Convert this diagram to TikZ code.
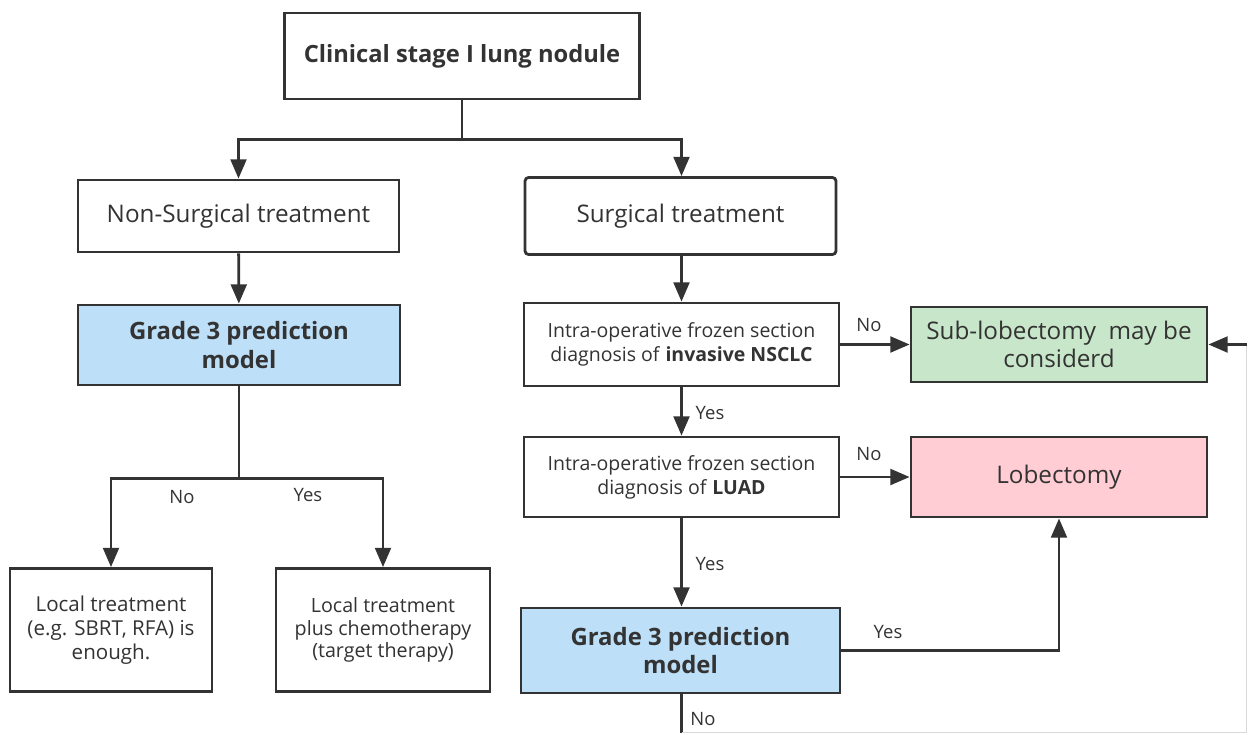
\documentclass[tikz,border=0pt]{standalone}
\usepackage{fontspec}
\setmainfont{Open Sans}
\usetikzlibrary{arrows.meta}
\definecolor{ink}{HTML}{333333}
\definecolor{modelblue}{HTML}{BDDFF8}
\definecolor{subgreen}{HTML}{C8E6C9}
\definecolor{lobpink}{HTML}{FFCDD3}
\begin{document}
\begin{tikzpicture}[x=0.02cm, y=-0.02cm,
    box/.style={draw=ink, line width=1.6pt, fill=white, inner sep=0pt, align=center, text=ink},
    link/.style={draw=ink, line width=1.6pt},
    arr/.style={link, -{Triangle[length=11pt, width=9pt]}},
    lbl/.style={text=ink, inner sep=0pt, font=\fontsize{10.5}{12}\selectfont}]
    \useasboundingbox (0,0) rectangle (1248,734);

    % top of the tree
    \node[box, minimum width=7.1cm, minimum height=1.72cm, font=\bfseries\fontsize{13.5}{16}\selectfont] (root) at (462,56) {Clinical stage I lung nodule};
    \node[box, minimum width=6.42cm, minimum height=1.44cm, font=\fontsize{13.8}{16}\selectfont] (nonsurg) at (238.5,216) {Non-Surgical treatment};
    \node[box, rounded corners=2pt, minimum width=6.22cm, minimum height=1.54cm, font=\fontsize{13.8}{16}\selectfont] (surg) at (680.5,216) {Surgical treatment};

    % non-surgical branch
    \node[box, fill=modelblue, minimum width=6.44cm, minimum height=1.6cm, font=\bfseries\fontsize{13.6}{16}\selectfont] (gradeL) at (239,345) {Grade 3 prediction\\model};
    \node[box, minimum width=4.04cm, minimum height=2.46cm, font=\fontsize{11.7}{13.6}\selectfont] (localL) at (111,630) {Local treatment\\(e.g. SBRT, RFA) is\\enough.};
    \node[box, minimum width=4.28cm, minimum height=2.46cm, font=\fontsize{11.2}{13}\selectfont] (localR) at (383,630) {Local treatment\\plus chemotherapy\\(target therapy)};

    % surgical branch
    \node[box, minimum width=6.3cm, minimum height=1.66cm, font=\fontsize{11.1}{13.6}\selectfont] (intraA) at (681.5,344.5) {Intra-operative frozen section\\diagnosis of \textbf{invasive NSCLC}};
    \node[box, minimum width=6.3cm, minimum height=1.6cm, font=\fontsize{11.1}{13.6}\selectfont] (intraB) at (681.5,477) {Intra-operative frozen section\\diagnosis of \textbf{LUAD}};
    \node[box, fill=modelblue, minimum width=6.38cm, minimum height=1.7cm, font=\bfseries\fontsize{13.6}{16}\selectfont] (gradeR) at (680.5,650.5) {Grade 3 prediction\\model};

    % outcomes
    \node[box, fill=subgreen, minimum width=5.92cm, minimum height=1.5cm, font=\fontsize{13.8}{16}\selectfont] (sub) at (1059,344.5) {Sub-lobectomy\ \ may be\\considerd};
    \node[box, fill=lobpink, minimum width=5.92cm, minimum height=1.6cm, font=\fontsize{13.8}{16}\selectfont] (lob) at (1059,477) {Lobectomy};
    \coordinate (bend) at (1246.5,732.5);

    % connectors from the root
    \draw[arr] (root.south) -- ++(0,39) -| (nonsurg.north);
    \draw[arr] (root.south) -- ++(0,39) -| (surg.north -| intraB.south);
    \draw[arr] (nonsurg) -- (gradeL);
    \draw[arr] (surg.south -| intraB.south) -- (intraA.north -| intraB.south);

    % model on the left
    \draw[arr] (gradeL.south) -- ++(0,92) -| (localL.north);
    \draw[arr] (gradeL.south) -- ++(0,92) -| (localR.north);
    \node[lbl] (noL) at (182,497) {No};
    \node[lbl] (yesL) at (308,495) {Yes};

    % frozen sections
    \draw[arr] (intraA) -- (sub);
    \node[lbl] (noA) at (869,325) {No};
    \draw[arr] (intraA.south -| intraB.south) -- (intraB.north);
    \node[lbl] (yesA) at (710,413) {Yes};
    \draw[arr] (intraB) -- (lob);
    \node[lbl] (noB) at (869,454) {No};
    \draw[arr] (intraB.south) -- (intraB.south |- gradeR.north);
    \node[lbl] (yesB) at (710,564) {Yes};

    % model on the right
    \draw[arr] (gradeR.east) -| (lob.south);
    \node[lbl] (yesR) at (888,632) {Yes};
    \draw[link] (intraB.south |- gradeR.south) -- (intraB.south |- bend);
    \draw[draw=black!15, line width=0.6pt] (intraB.south |- bend) -- (bend) -- (bend |- sub.east);
    \draw[arr] (bend |- sub.east) -- (sub.east);
    \node[lbl] (noR) at (703,719) {No};
\end{tikzpicture}
\end{document}
